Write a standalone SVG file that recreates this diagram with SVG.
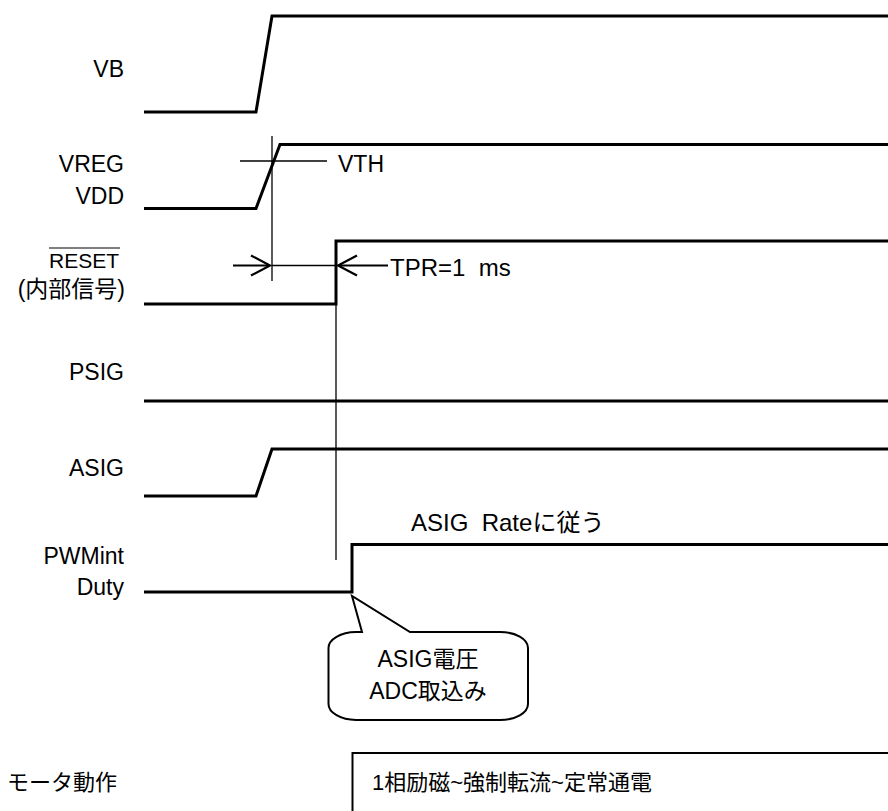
<svg xmlns="http://www.w3.org/2000/svg" width="888" height="811" viewBox="0 0 888 811">
<style>
text{font-family:"Liberation Sans","Noto Sans CJK JP",Arial,sans-serif;font-size:23px;fill:#000}
.lbl{text-anchor:end}
.wave{fill:none;stroke:#000;stroke-width:3;stroke-linejoin:miter}
.thin{fill:none;stroke:#000;stroke-width:1.3}
.arw{fill:none;stroke:#000;stroke-width:2.2}
.box{fill:#fff;stroke:#000;stroke-width:2}
</style>
<rect width="888" height="811" fill="#fff"/>
<g id="VB">
<text class="lbl" x="124" y="77">VB</text>
<polyline class="wave" points="144,112 256,112 272,16 890,16"/>
</g>
<g id="VREG">
<text class="lbl" x="124" y="172">VREG</text>
<text class="lbl" x="124" y="204">VDD</text>
<polyline class="wave" points="144,208.5 256,208.5 280,144.5 890,144.5"/>
</g>
<g id="VTH">
<text x="338" y="172">VTH</text>
</g>
<g id="RESET">
<text class="lbl" x="119" y="268" style="font-size:21px">RESET</text>
<line x1="49" y1="248" x2="120" y2="248" stroke="#000" stroke-width="1.2"/>
<text class="lbl" x="125" y="297">(内部信号)</text>
<polyline class="wave" points="144,304 336,304 336,241 890,241"/>
</g>
<g id="TPR">
<text x="390" y="276" xml:space="preserve" style="font-size:24px">TPR=1  ms</text>
</g>
<g id="PSIG">
<text class="lbl" x="124" y="380">PSIG</text>
<line class="wave" x1="144" y1="401" x2="890" y2="401"/>
</g>
<g id="ASIG">
<text class="lbl" x="124" y="476">ASIG</text>
<polyline class="wave" points="144,496 256,496 272,449 890,449"/>
</g>
<g id="PWMint">
<text class="lbl" x="124" y="564">PWMint</text>
<text class="lbl" x="124" y="595">Duty</text>
<polyline class="wave" points="144,592 352,592 352,544.5 890,544.5"/>
<text x="411" y="531" xml:space="preserve" style="font-size:24px">ASIG  Rateに従う</text>
</g>
<g id="callout">
<path class="box" d="M352,596 L362,632 L356,632 A28 16 0 0 0 328.5,648 L328.5,704 A28 16 0 0 0 356,720 L500,720 A28 16 0 0 0 528,704 L528,648 A28 16 0 0 0 500,632 L410,632 Z"/>
<text x="428" y="667" text-anchor="middle">ASIG電圧</text>
<text x="428" y="699" text-anchor="middle">ADC取込み</text>
</g>
<g id="motor">
<text x="7" y="790" style="font-size:22px">モータ動作</text>
<path d="M352.5,813 L352.5,753 L890,753" fill="none" stroke="#000" stroke-width="2"/>
<text x="372" y="790" style="font-size:22px">1相励磁~強制転流~定常通電</text>
</g>
<g id="connectors">
<line class="thin" x1="272" y1="136" x2="272" y2="281"/>
<line class="thin" x1="240" y1="161" x2="327" y2="161"/>
<line class="thin" x1="336" y1="304" x2="336" y2="560"/>
<line class="thin" x1="272" y1="265.5" x2="336" y2="265.5"/>
<line class="arw" x1="233" y1="265.5" x2="269" y2="265.5"/>
<polyline class="arw" points="251,255.5 270,265.5 251,275.5"/>
<line class="arw" x1="339" y1="265.5" x2="388" y2="265.5"/>
<polyline class="arw" points="357,255.5 338,265.5 357,275.5"/>
</g>
</svg>
